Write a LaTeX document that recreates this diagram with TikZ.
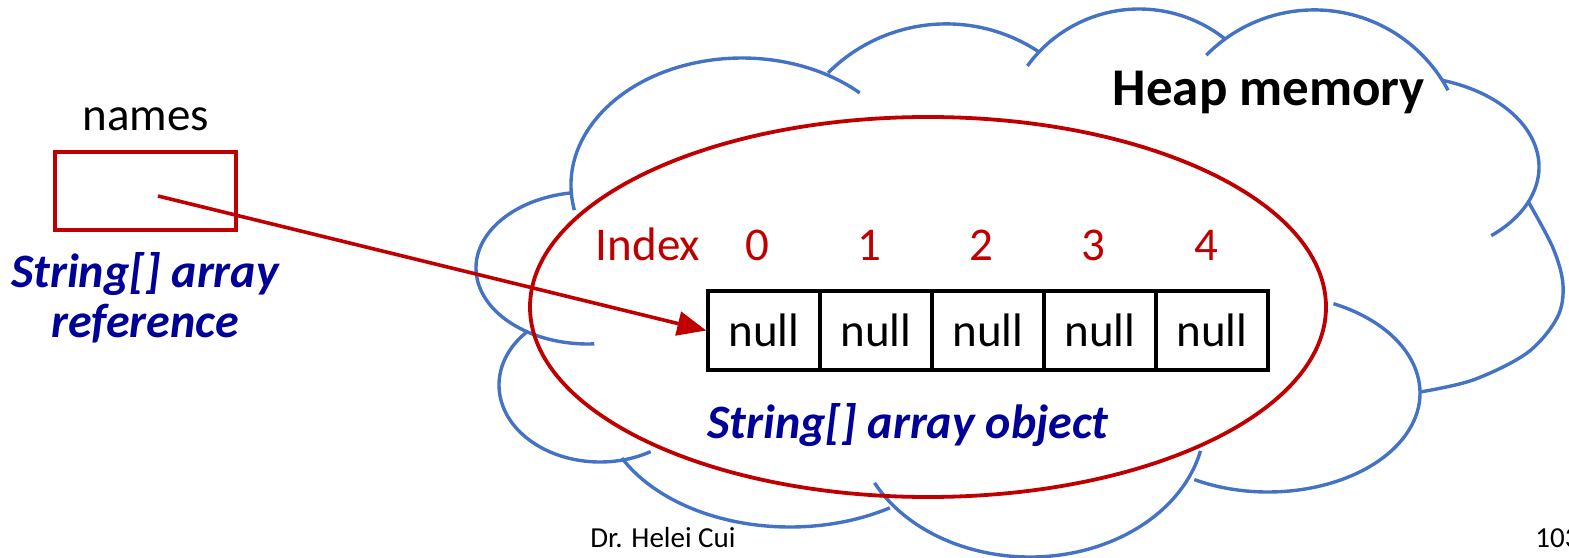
\documentclass[tikz,border=0pt]{standalone}
\usepackage{fontspec}
\setmainfont{Carlito}
\usetikzlibrary{arrows.meta}
\definecolor{cloudblue}{RGB}{68,114,196}
\definecolor{darkred}{RGB}{192,0,0}
\definecolor{navy}{RGB}{0,0,153}
\tikzset{
  lobe/.style={draw=cloudblue,line width=1.7pt},
  cell/.style={draw=black,line width=1.7pt,minimum width=56pt,minimum height=39.5pt,inner sep=0pt,font=\fontsize{23.5}{28}\selectfont},
  idx/.style={text=darkred,anchor=base,inner sep=0pt,font=\fontsize{23.5}{28}\selectfont},
  navytext/.style={text=navy,anchor=base,inner sep=0pt,font=\fontsize{24}{29}\selectfont\bfseries\itshape},
}
\newcommand{\lobearc}[6]{% cx, cy, a, b, t1, t2
  \draw[lobe] (#1,#2) ++(#5:#3 and #4) arc[start angle=#5,end angle=#6,x radius=#3,y radius=#4];}
\begin{document}
\begin{tikzpicture}[x=0.5pt,y=-0.5pt]
\useasboundingbox (0,0) rectangle (1569,557);
% cloud lobes
\lobearc{742}{185}{171}{127}{168.6}{313.5}
\lobearc{946.3}{191.1}{167.2}{167.2}{225}{303.7}
\lobearc{1139.1}{147.1}{138.1}{138.1}{216}{308.5}
\lobearc{1314.3}{161.4}{151.5}{151.5}{224.5}{332}
\lobearc{1400}{167}{139}{91}{287.5}{409}
\draw[lobe,smooth,tension=0.55] plot coordinates {(1529,203) (1553,248) (1563,285) (1557,318) (1527,353) (1473,380) (1420,392)};
\lobearc{1268}{393}{152}{99}{-64.5}{119}
\lobearc{1030}{420}{175}{137}{152.7}{13}
\lobearc{790}{400}{189}{127}{152.8}{58.1}
\lobearc{600}{385}{101}{77}{223.4}{59.9}
\lobearc{588}{268}{112}{76}{262}{86.8}
% heap label
\node[anchor=base,inner sep=0pt,font=\fontsize{26.5}{32}\selectfont\bfseries] (heap) at (1269,105) {Heap memory};
% array object ellipse
\draw[darkred,line width=1.9pt] (928,307) ellipse [x radius=398, y radius=190];
% reference
\node[anchor=base,inner sep=0pt,font=\fontsize{23.5}{28}\selectfont] (lbl) at (146,130) {names};
\node[draw=darkred,line width=1.7pt,minimum width=90.5pt,minimum height=39pt,inner sep=0pt] (ref) at (145.5,191) {};
\node[navytext] (refa) at (145,287) {String[] array};
\node[navytext] (refb) at (145,337) {reference};
% index labels
\node[idx] (ix) at (648,260) {Index};
\node[idx] (i0) at (757,260) {0};
\node[idx] (i1) at (869,260) {1};
\node[idx] (i2) at (981,260) {2};
\node[idx] (i3) at (1093,260) {3};
\node[idx] (i4) at (1206,260) {4};
% cells
\node[cell] (c0) at (764,330.5) {null};
\node[cell] (c1) at (876,330.5) {null};
\node[cell] (c2) at (988,330.5) {null};
\node[cell] (c3) at (1100,330.5) {null};
\node[cell] (c4) at (1212,330.5) {null};
\node[navytext] (obj) at (908,438) {String[] array object};
% arrow
\coordinate (start) at (158,196);
\draw[darkred,line width=1.8pt,-{Triangle[length=14.5pt,width=12pt]}] (start) -- (c0.west);
% footer
\node[anchor=base,inner sep=0pt,font=\fontsize{14.5}{17}\selectfont] (author) at (663,547) {Dr. Helei Cui};
\node[anchor=base west,inner sep=0pt,font=\fontsize{14.5}{17}\selectfont] (page) at (1535,547) {103};
\end{tikzpicture}
\end{document}
